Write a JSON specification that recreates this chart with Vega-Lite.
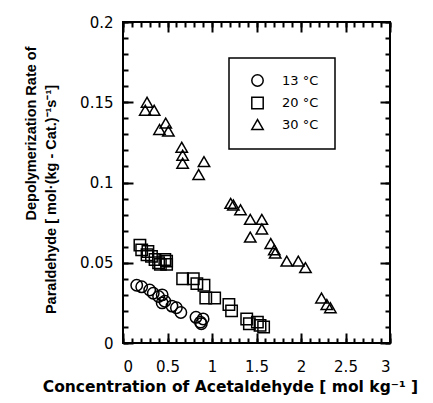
{
  "$schema": "https://vega.github.io/schema/vega-lite/v6.json",
  "width": 267,
  "height": 321,
  "autosize": {"type": "none"},
  "padding": {"left": 123, "top": 22, "right": 43, "bottom": 60},
  "background": "white",
  "config": {
    "view": {"stroke": "black", "strokeWidth": 2},
    "axis": {
      "domain": false, "grid": false, "ticks": true, "tickColor": "black", "tickWidth": 2, "tickOpacity": 1, "zindex": 2,
      "labelColor": "black", "titleColor": "black",
      "labelFont": "DejaVu Sans", "labelFontSize": 15,
      "titleFont": "Liberation Sans", "titleFontSize": 14.5, "titleFontWeight": "bold",
      "format": "~g"
    },
    "legend": {
      "orient": "none", "legendX": 106, "legendY": 36,
      "strokeColor": "black", "strokeWidth": 1.5, "padding": 16,
      "labelFont": "DejaVu Sans", "labelFontSize": 13, "labelColor": "black",
      "symbolStrokeColor": "black", "symbolFillColor": "transparent", "symbolStrokeWidth": 1.5,
      "symbolSize": 130, "rowPadding": 3.5, "labelOffset": 18, "symbolOffset": 6
    }
  },
  "data": {"values": [
    {"c": 0.154, "r": 0.036, "T": "13 °C"},
    {"c": 0.21, "r": 0.035, "T": "13 °C"},
    {"c": 0.30, "r": 0.033, "T": "13 °C"},
    {"c": 0.34, "r": 0.031, "T": "13 °C"},
    {"c": 0.40, "r": 0.029, "T": "13 °C"},
    {"c": 0.44, "r": 0.030, "T": "13 °C"},
    {"c": 0.44, "r": 0.025, "T": "13 °C"},
    {"c": 0.47, "r": 0.026, "T": "13 °C"},
    {"c": 0.55, "r": 0.023, "T": "13 °C"},
    {"c": 0.60, "r": 0.022, "T": "13 °C"},
    {"c": 0.65, "r": 0.019, "T": "13 °C"},
    {"c": 0.82, "r": 0.016, "T": "13 °C"},
    {"c": 0.87, "r": 0.013, "T": "13 °C"},
    {"c": 0.90, "r": 0.015, "T": "13 °C"},
    {"c": 0.88, "r": 0.012, "T": "13 °C"},
    {"c": 0.19, "r": 0.061, "T": "20 °C"},
    {"c": 0.21, "r": 0.058, "T": "20 °C"},
    {"c": 0.28, "r": 0.057, "T": "20 °C"},
    {"c": 0.27, "r": 0.055, "T": "20 °C"},
    {"c": 0.32, "r": 0.054, "T": "20 °C"},
    {"c": 0.36, "r": 0.052, "T": "20 °C"},
    {"c": 0.40, "r": 0.050, "T": "20 °C"},
    {"c": 0.47, "r": 0.052, "T": "20 °C"},
    {"c": 0.49, "r": 0.051, "T": "20 °C"},
    {"c": 0.42, "r": 0.049, "T": "20 °C"},
    {"c": 0.49, "r": 0.049, "T": "20 °C"},
    {"c": 0.67, "r": 0.040, "T": "20 °C"},
    {"c": 0.79, "r": 0.040, "T": "20 °C"},
    {"c": 0.83, "r": 0.037, "T": "20 °C"},
    {"c": 0.91, "r": 0.036, "T": "20 °C"},
    {"c": 0.93, "r": 0.028, "T": "20 °C"},
    {"c": 1.03, "r": 0.028, "T": "20 °C"},
    {"c": 1.19, "r": 0.024, "T": "20 °C"},
    {"c": 1.22, "r": 0.020, "T": "20 °C"},
    {"c": 1.39, "r": 0.015, "T": "20 °C"},
    {"c": 1.42, "r": 0.012, "T": "20 °C"},
    {"c": 1.51, "r": 0.013, "T": "20 °C"},
    {"c": 1.54, "r": 0.011, "T": "20 °C"},
    {"c": 1.58, "r": 0.010, "T": "20 °C"},
    {"c": 0.27, "r": 0.150, "T": "30 °C"},
    {"c": 0.25, "r": 0.145, "T": "30 °C"},
    {"c": 0.35, "r": 0.145, "T": "30 °C"},
    {"c": 0.48, "r": 0.137, "T": "30 °C"},
    {"c": 0.41, "r": 0.133, "T": "30 °C"},
    {"c": 0.51, "r": 0.132, "T": "30 °C"},
    {"c": 0.66, "r": 0.122, "T": "30 °C"},
    {"c": 0.67, "r": 0.117, "T": "30 °C"},
    {"c": 0.67, "r": 0.112, "T": "30 °C"},
    {"c": 0.91, "r": 0.113, "T": "30 °C"},
    {"c": 0.85, "r": 0.105, "T": "30 °C"},
    {"c": 1.21, "r": 0.087, "T": "30 °C"},
    {"c": 1.24, "r": 0.086, "T": "30 °C"},
    {"c": 1.32, "r": 0.083, "T": "30 °C"},
    {"c": 1.43, "r": 0.077, "T": "30 °C"},
    {"c": 1.56, "r": 0.077, "T": "30 °C"},
    {"c": 1.56, "r": 0.071, "T": "30 °C"},
    {"c": 1.43, "r": 0.066, "T": "30 °C"},
    {"c": 1.66, "r": 0.062, "T": "30 °C"},
    {"c": 1.70, "r": 0.058, "T": "30 °C"},
    {"c": 1.71, "r": 0.056, "T": "30 °C"},
    {"c": 1.84, "r": 0.051, "T": "30 °C"},
    {"c": 1.97, "r": 0.051, "T": "30 °C"},
    {"c": 2.05, "r": 0.047, "T": "30 °C"},
    {"c": 2.23, "r": 0.028, "T": "30 °C"},
    {"c": 2.29, "r": 0.024, "T": "30 °C"},
    {"c": 2.33, "r": 0.022, "T": "30 °C"}
  ]},
  "layer": [
    {
      "mark": {"type": "point", "filled": false, "stroke": "black", "strokeWidth": 1.5, "size": 130, "opacity": 1},
      "encoding": {
        "x": {"field": "c", "type": "quantitative", "scale": {"domain": [0, 3], "nice": false},
          "axis": {"orient": "bottom", "values": [0, 0.5, 1, 1.5, 2, 2.5, 3], "offset": -10, "tickSize": 10, "labelPadding": 16, "labelFlush": true,
            "title": "Concentration of Acetaldehyde  [ mol kg⁻¹ ]", "titleFont": "DejaVu Sans", "titleFontSize": 15.5, "titleX": 107, "titleY": 46, "titleBaseline": "top"}},
        "y": {"field": "r", "type": "quantitative", "scale": {"domain": [0, 0.2], "nice": false},
          "axis": {"orient": "left", "values": [0, 0.05, 0.1, 0.15, 0.2], "offset": -10, "tickSize": 10, "labelPadding": 10,
            "title": "Depolymerization Rate of", "titleX": -102, "titleY": 111, "titleBaseline": "middle", "titleAngle": -90}},
        "shape": {"field": "T", "type": "nominal",
          "scale": {"domain": ["13 °C", "20 °C", "30 °C"], "range": ["circle", "square", "triangle-up"]},
          "legend": {"title": null, "labelExpr": "datum.label + '\u00a0\u00a0\u00a0\u00a0\u00a0\u00a0'"}}
      }
    },
    {
      "mark": {"type": "point", "opacity": 0},
      "encoding": {
        "x": {"field": "c", "type": "quantitative", "scale": {"domain": [0, 3], "nice": false},
          "axis": {"orient": "bottom", "values": [0, 0.1, 0.2, 0.3, 0.4, 0.5, 0.6, 0.7, 0.8, 0.9, 1, 1.1, 1.2, 1.3, 1.4, 1.5, 1.6, 1.7, 1.8, 1.9, 2, 2.1, 2.2, 2.3, 2.4, 2.5, 2.6, 2.7, 2.8, 2.9, 3], "offset": -5, "tickSize": 5, "labels": false, "title": null}},
        "y": {"field": "r", "type": "quantitative", "scale": {"domain": [0, 0.2], "nice": false},
          "axis": {"orient": "left", "values": [0, 0.01, 0.02, 0.03, 0.04, 0.05, 0.06, 0.07, 0.08, 0.09, 0.1, 0.11, 0.12, 0.13, 0.14, 0.15, 0.16, 0.17, 0.18, 0.19, 0.2], "offset": -5, "tickSize": 5, "labels": false,
            "title": "Paraldehyde  [ mol·(kg - Cat.)⁻¹s⁻¹]", "titleX": -77, "titleY": 177, "titleBaseline": "middle", "titleAngle": -90}}
      }
    },
    {
      "mark": {"type": "point", "opacity": 0},
      "encoding": {
        "x": {"field": "c", "type": "quantitative", "scale": {"domain": [0, 3], "nice": false},
          "axis": {"orient": "top", "values": [0, 0.5, 1, 1.5, 2, 2.5, 3], "offset": -10, "tickSize": 10, "labels": false, "title": null}},
        "y": {"field": "r", "type": "quantitative", "scale": {"domain": [0, 0.2], "nice": false},
          "axis": {"orient": "right", "values": [0, 0.05, 0.1, 0.15, 0.2], "offset": -10, "tickSize": 10, "labels": false, "title": null}}
      }
    },
    {
      "mark": {"type": "point", "opacity": 0},
      "encoding": {
        "x": {"field": "c", "type": "quantitative", "scale": {"domain": [0, 3], "nice": false},
          "axis": {"orient": "top", "values": [0, 0.1, 0.2, 0.3, 0.4, 0.5, 0.6, 0.7, 0.8, 0.9, 1, 1.1, 1.2, 1.3, 1.4, 1.5, 1.6, 1.7, 1.8, 1.9, 2, 2.1, 2.2, 2.3, 2.4, 2.5, 2.6, 2.7, 2.8, 2.9, 3], "offset": -5, "tickSize": 5, "labels": false, "title": null}},
        "y": {"field": "r", "type": "quantitative", "scale": {"domain": [0, 0.2], "nice": false},
          "axis": {"orient": "right", "values": [0, 0.01, 0.02, 0.03, 0.04, 0.05, 0.06, 0.07, 0.08, 0.09, 0.1, 0.11, 0.12, 0.13, 0.14, 0.15, 0.16, 0.17, 0.18, 0.19, 0.2], "offset": -5, "tickSize": 5, "labels": false, "title": null}}
      }
    }
  ],
  "resolve": {"axis": {"x": "independent", "y": "independent"}}
}
